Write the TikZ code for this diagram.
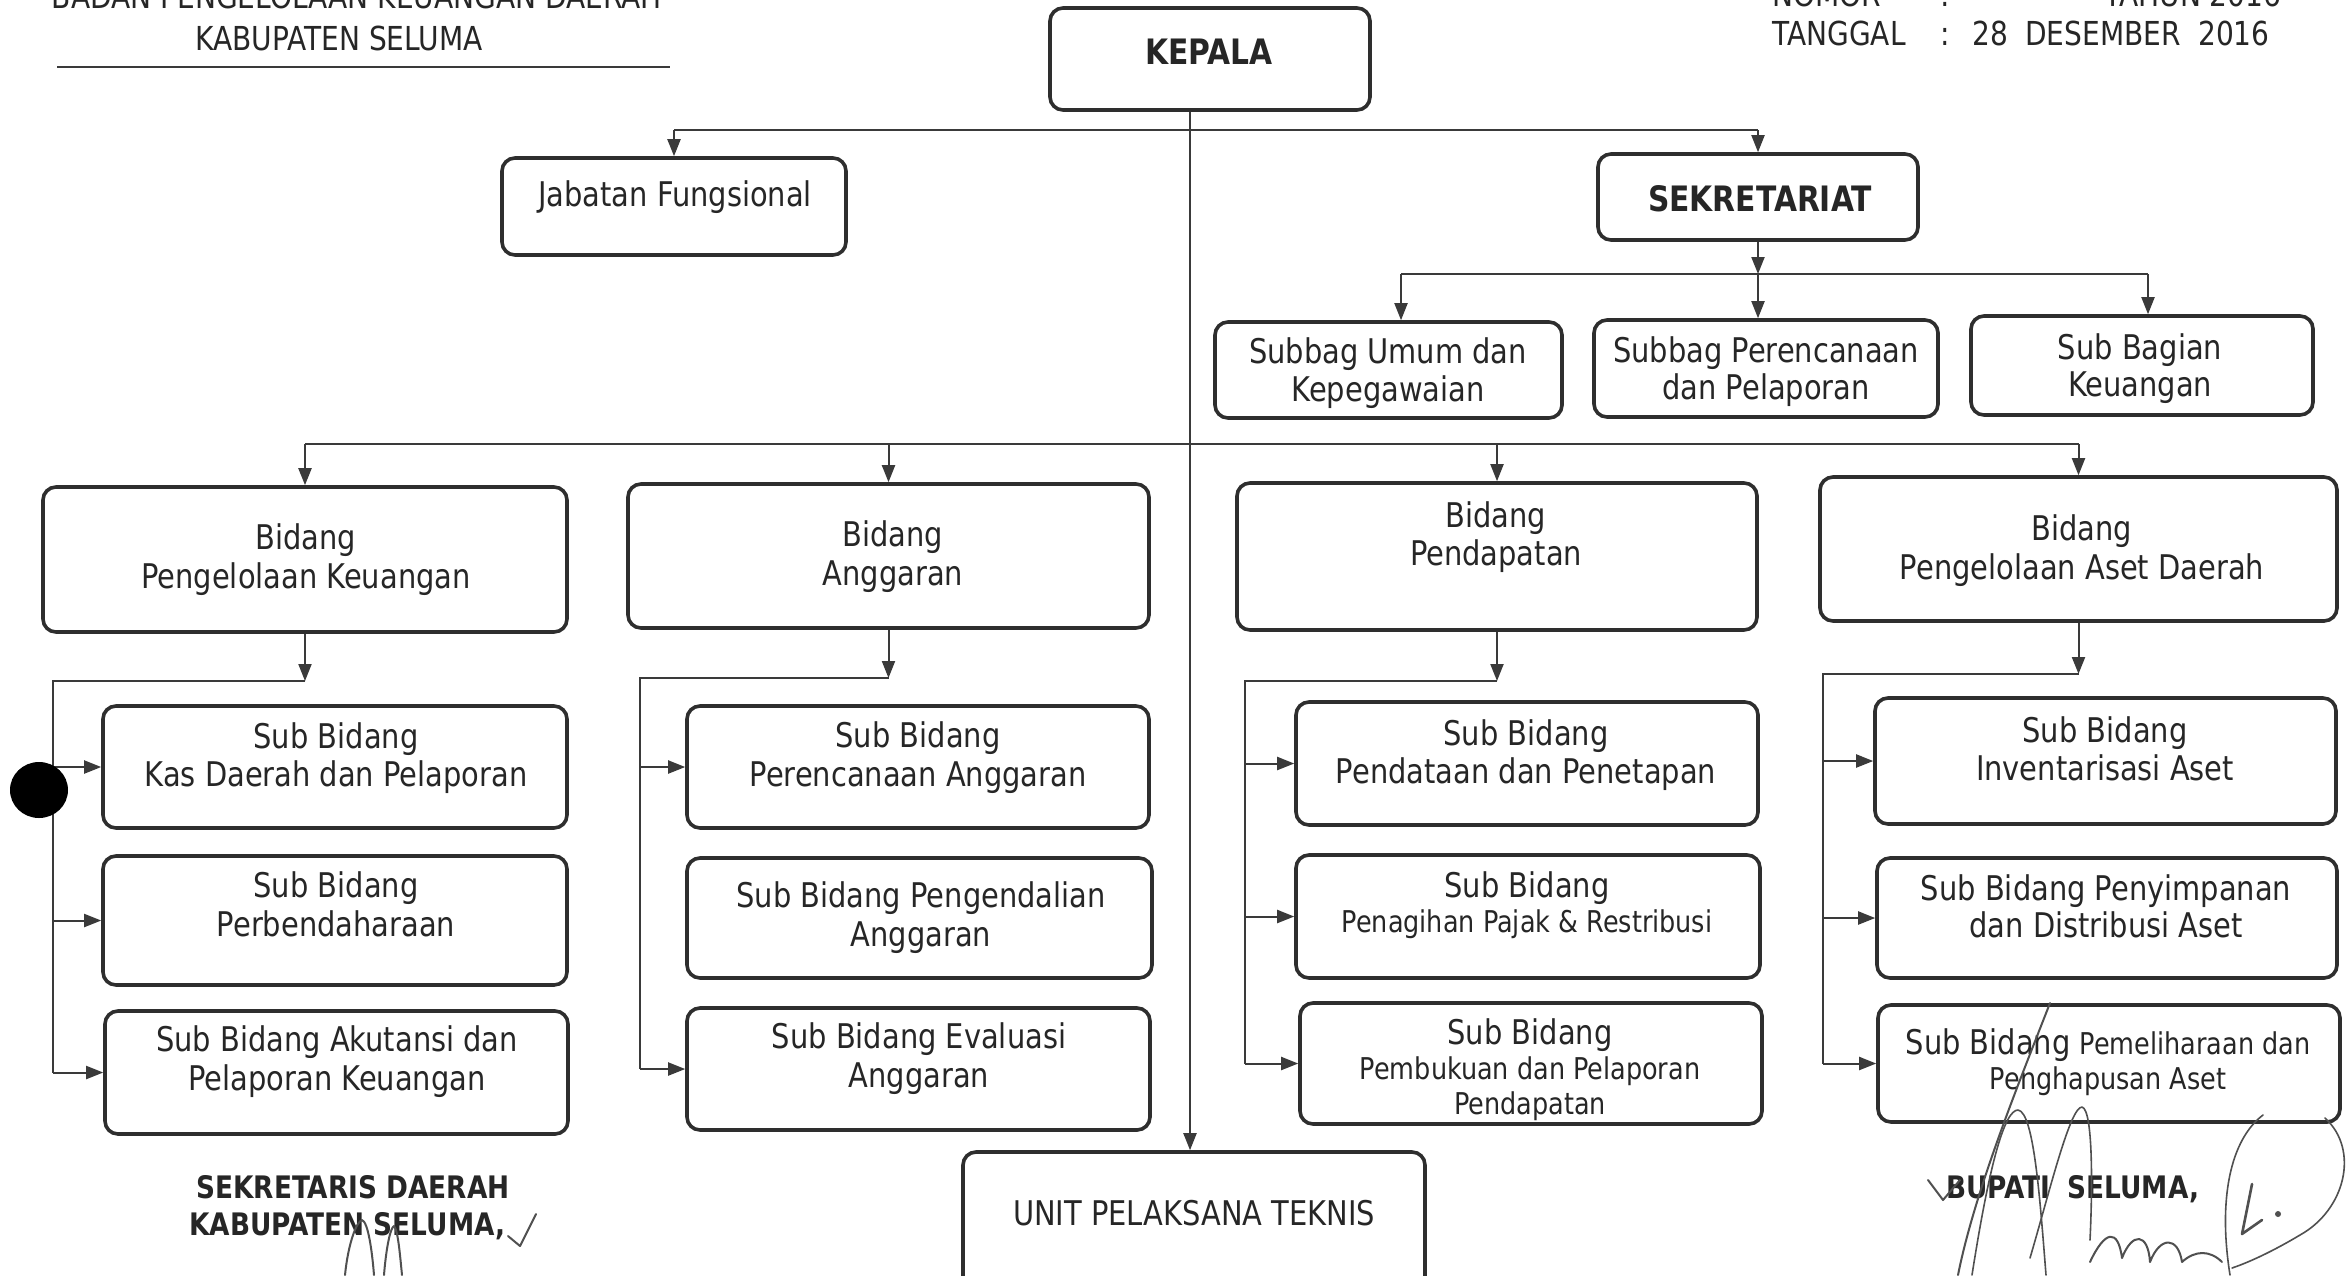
\documentclass[tikz,border=0pt]{standalone}
\usepackage{fontspec}
\setmainfont[FakeStretch=0.85]{DejaVu Sans}
\usetikzlibrary{arrows.meta}
\newcommand\szBox{\fontsize{34}{38}\selectfont}
\newcommand\szSmall{\fontsize{30}{35}\selectfont}
\newcommand\szHead{\fontsize{33}{38}\selectfont}
\newcommand\szTitle{\bfseries\fontsize{35}{40}\selectfont}
\newcommand\szSign{\bfseries\fontsize{31}{36}\selectfont}
\definecolor{txtc}{HTML}{262626}
\definecolor{boxc}{HTML}{2E2E2E}
\definecolor{linec}{HTML}{3A3A3A}
\definecolor{penc}{HTML}{505050}
\tikzset{
  box/.style={draw=boxc, line width=3.6pt, rounded corners=13pt, inner sep=0pt},
  lbl/.style={anchor=base, inner sep=0pt, text=txtc, font=\szBox},
  sml/.style={lbl, font=\szSmall},
  hdr/.style={anchor=base west, inner sep=0pt, text=txtc, font=\szHead},
  conn/.style={draw=linec, line width=2pt},
  arr/.style={conn, -{Triangle[length=17pt,width=13pt]}},
  pen/.style={draw=penc, line width=2pt, line cap=round, line join=round},
}
\begin{document}
\begin{tikzpicture}[x=1pt,y=-1pt]
\useasboundingbox (0,0) rectangle (2351,1275);
\fill[white] (0,0) rectangle (2351,1275);

% ---------- header ----------
\node[anchor=base, inner sep=0pt, text=txtc, font=\szHead] (h1) at (357,8) {BADAN PENGELOLAAN KEUANGAN DAERAH};
\node[anchor=base, inner sep=0pt, text=txtc, font=\szHead] (h2) at (339,50) {KABUPATEN SELUMA};
\coordinate (hl1) at (57,67);
\coordinate (hl2) at (670,67);
\draw[draw=linec, line width=1.8pt] (hl1) -- (hl2);

\node[hdr] (nom) at (1772,6) {NOMOR};
\node[hdr] (nomc) at (1940,6) {:};
\node[hdr] (tah) at (2104,6) {TAHUN 2016};
\node[hdr] (tgl) at (1772,45) {TANGGAL};
\node[hdr] (tglc) at (1940,45) {:};
\node[hdr] (tgln) at (1972,45) {28};
\node[hdr] (tglm) at (2025,45) {DESEMBER};
\node[hdr] (tgly) at (2198,45) {2016};

% ---------- boxes ----------
\node[box, minimum width=320pt, minimum height=102pt] (kepala) at (1210,59) {};
\node[box, minimum width=344pt, minimum height=97pt] (jab) at (674,206.5) {};
\node[box, minimum width=320pt, minimum height=86pt] (sek) at (1758,197) {};
\node[box, minimum width=347pt, minimum height=96pt] (sub1) at (1388.5,370) {};
\node[box, minimum width=344pt, minimum height=97pt] (sub2) at (1766,368.5) {};
\node[box, minimum width=342pt, minimum height=99pt] (sub3) at (2142,365.5) {};

\node[box, minimum width=524pt, minimum height=145pt] (bid1) at (305,559.5) {};
\node[box, minimum width=521pt, minimum height=144pt] (bid2) at (888.5,556) {};
\node[box, minimum width=520pt, minimum height=147pt] (bid3) at (1497,556.5) {};
\node[box, minimum width=517pt, minimum height=144pt] (bid4) at (2078.5,549) {};

\node[box, minimum width=464pt, minimum height=122pt] (c1a) at (335,767) {};
\node[box, minimum width=464pt, minimum height=129pt] (c1b) at (335,920.5) {};
\node[box, minimum width=463pt, minimum height=123pt] (c1c) at (336.5,1072.5) {};

\node[box, minimum width=462pt, minimum height=122pt] (c2a) at (918,767) {};
\node[box, minimum width=465pt, minimum height=120pt] (c2b) at (919.5,918) {};
\node[box, minimum width=463pt, minimum height=122pt] (c2c) at (918.5,1069) {};

\node[box, minimum width=462pt, minimum height=123pt] (c3a) at (1527,763.5) {};
\node[box, minimum width=464pt, minimum height=123pt] (c3b) at (1528,916.5) {};
\node[box, minimum width=462pt, minimum height=121pt] (c3c) at (1531,1063.5) {};

\node[box, minimum width=461pt, minimum height=126pt] (c4a) at (2105.5,761) {};
\node[box, minimum width=460pt, minimum height=120pt] (c4b) at (2107,918) {};
\node[box, minimum width=462pt, minimum height=117pt] (c4c) at (2109,1063.5) {};

\node[box, minimum width=462pt, minimum height=148pt] (unit) at (1194,1226) {};

% ---------- box texts ----------
\node[lbl, font=\szTitle] (kepalaT) at (1209,64) {KEPALA};
\node[lbl] (jabT) at (675,206) {Jabatan Fungsional};
\node[lbl, font=\szTitle] (sekT) at (1760,211) {SEKRETARIAT};

\node[lbl] (sub1T1) at (1388,363) {Subbag Umum dan};
\node[lbl] (sub1T2) at (1388,401) {Kepegawaian};
\node[lbl] (sub2T1) at (1766,362) {Subbag Perencanaan};
\node[lbl] (sub2T2) at (1766,399) {dan Pelaporan};
\node[lbl] (sub3T1) at (2140,359) {Sub Bagian};
\node[lbl] (sub3T2) at (2140,396) {Keuangan};

\node[lbl] (bid1T1) at (306,549) {Bidang};
\node[lbl] (bid1T2) at (306,588) {Pengelolaan Keuangan};
\node[lbl] (bid2T1) at (893,546) {Bidang};
\node[lbl] (bid2T2) at (893,585) {Anggaran};
\node[lbl] (bid3T1) at (1496,527) {Bidang};
\node[lbl] (bid3T2) at (1496,565) {Pendapatan};
\node[lbl] (bid4T1) at (2082,540) {Bidang};
\node[lbl] (bid4T2) at (2082,579) {Pengelolaan Aset Daerah};

\node[lbl] (c1aT1) at (336,748) {Sub Bidang};
\node[lbl] (c1aT2) at (336,786) {Kas Daerah dan Pelaporan};
\node[lbl] (c1bT1) at (336,897) {Sub Bidang};
\node[lbl] (c1bT2) at (336,936) {Perbendaharaan};
\node[lbl] (c1cT1) at (337,1051) {Sub Bidang Akutansi dan};
\node[lbl] (c1cT2) at (337,1090) {Pelaporan Keuangan};

\node[lbl] (c2aT1) at (918,747) {Sub Bidang};
\node[lbl] (c2aT2) at (918,786) {Perencanaan Anggaran};
\node[lbl] (c2bT1) at (921,907) {Sub Bidang Pengendalian};
\node[lbl] (c2bT2) at (921,946) {Anggaran};
\node[lbl] (c2cT1) at (919,1048) {Sub Bidang Evaluasi};
\node[lbl] (c2cT2) at (919,1087) {Anggaran};

\node[lbl] (c3aT1) at (1526,745) {Sub Bidang};
\node[lbl] (c3aT2) at (1526,783) {Pendataan dan Penetapan};
\node[lbl] (c3bT1) at (1527,897) {Sub Bidang};
\node[sml] (c3bT2) at (1527,932) {Penagihan Pajak \& Restribusi};
\node[lbl] (c3cT1) at (1530,1044) {Sub Bidang};
\node[sml] (c3cT2) at (1530,1079) {Pembukuan dan Pelaporan};
\node[sml] (c3cT3) at (1530,1114) {Pendapatan};

\node[lbl] (c4aT1) at (2105,742) {Sub Bidang};
\node[lbl] (c4aT2) at (2105,780) {Inventarisasi Aset};
\node[lbl] (c4bT1) at (2106,900) {Sub Bidang Penyimpanan};
\node[lbl] (c4bT2) at (2106,937) {dan Distribusi Aset};
\node[lbl] (c4cT1) at (2108,1054) {Sub Bidang {\szSmall Pemeliharaan dan}};
\node[sml] (c4cT2) at (2108,1089) {Penghapusan Aset};

\node[lbl] (unitT) at (1194,1225) {UNIT PELAKSANA TEKNIS};

% ---------- connectors ----------
\coordinate (tk) at (1190,130);
\coordinate (bb) at (1190,444);
\draw[arr] (tk |- kepala.south) -- (tk |- unit.north);
\draw[conn] (jab.north |- tk) -- (sek.north |- tk);
\draw[arr] (jab.north |- tk) -- (jab.north);
\draw[arr] (sek.north |- tk) -- (sek.north);

\coordinate (sb) at (1758,274);
\coordinate (sa1) at (1401,274);
\coordinate (sa3) at (2148,274);
\draw[arr] (sek.south) -- (sb);
\draw[conn] (sa1) -- (sa3);
\draw[arr] (sa1) -- (sa1 |- sub1.north);
\draw[arr] (sb) -- (sb |- sub2.north);
\draw[arr] (sa3) -- (sa3 |- sub3.north);

\draw[conn] (bid1.north |- bb) -- (bid4.north |- bb);
\draw[arr] (bid1.north |- bb) -- (bid1.north);
\draw[arr] (bid2.north |- bb) -- (bid2.north);
\draw[arr] (bid3.north |- bb) -- (bid3.north);
\draw[arr] (bid4.north |- bb) -- (bid4.north);

% column 1
\coordinate (k1) at (53,681);
\draw[arr] (bid1.south) -- (bid1.south |- k1);
\draw[conn] (bid1.south |- k1) -- (k1) -- (k1 |- c1c.west);
\draw[arr] (k1 |- c1a.west) -- (c1a.west);
\draw[arr] (k1 |- c1b.west) -- (c1b.west);
\draw[arr] (k1 |- c1c.west) -- (c1c.west);
% column 2
\coordinate (k2) at (640,678);
\draw[arr] (bid2.south) -- (bid2.south |- k2);
\draw[conn] (bid2.south |- k2) -- (k2) -- (k2 |- c2c.west);
\draw[arr] (k2 |- c2a.west) -- (c2a.west);
\draw[arr] (k2 |- c2c.west) -- (c2c.west);
% column 3
\coordinate (k3) at (1245,681);
\draw[arr] (bid3.south) -- (bid3.south |- k3);
\draw[conn] (bid3.south |- k3) -- (k3) -- (k3 |- c3c.west);
\draw[arr] (k3 |- c3a.west) -- (c3a.west);
\draw[arr] (k3 |- c3b.west) -- (c3b.west);
\draw[arr] (k3 |- c3c.west) -- (c3c.west);
% column 4
\coordinate (k4) at (1823,674);
\draw[arr] (bid4.south) -- (bid4.south |- k4);
\draw[conn] (bid4.south |- k4) -- (k4) -- (k4 |- c4c.west);
\draw[arr] (k4 |- c4a.west) -- (c4a.west);
\draw[arr] (k4 |- c4b.west) -- (c4b.west);
\draw[arr] (k4 |- c4c.west) -- (c4c.west);

% ink blot
\fill[black] (39,790) ellipse [x radius=29pt, y radius=28pt];

% ---------- signatures block ----------
\node[anchor=base, inner sep=0pt, text=txtc, font=\szSign] (sekda1) at (353,1198) {SEKRETARIS DAERAH};
\node[anchor=base west, inner sep=0pt, text=txtc, font=\szSign] (sekda2) at (189,1235) {KABUPATEN SELUMA,};
\node[anchor=base west, inner sep=0pt, text=txtc, font=\szSign] (bupati) at (1946,1198) {BUPATI\hspace{0.55em}SELUMA,};

% pen strokes (left)
\draw[pen] (508,1236) -- (520,1246) -- (536,1214);
\draw[pen] (345,1275) .. controls (348,1245) and (356,1222) .. (362,1220) .. controls (368,1222) and (372,1250) .. (374,1275);
\draw[pen] (384,1275) .. controls (386,1250) and (390,1228) .. (394,1226) .. controls (398,1230) and (400,1255) .. (402,1275);
% pen strokes (right)
\draw[pen] (1928,1180) -- (1943,1200) -- (1960,1180);
\draw[pen] (2050,1003) .. controls (2020,1080) and (1975,1190) .. (1958,1275);
\draw[pen, line width=1.6pt] (1972,1275) .. controls (1990,1160) and (2005,1110) .. (2018,1110) .. controls (2034,1112) and (2040,1200) .. (2046,1275);
\draw[pen, line width=1.6pt] (2030,1258) .. controls (2050,1190) and (2070,1107) .. (2082,1107) .. controls (2094,1110) and (2092,1200) .. (2090,1240);
\draw[pen] (2090,1262) .. controls (2105,1230) and (2118,1228) .. (2122,1258) .. controls (2132,1232) and (2148,1232) .. (2150,1262) .. controls (2160,1236) and (2178,1236) .. (2182,1262) .. controls (2195,1250) and (2210,1250) .. (2222,1262);
\draw[pen, line width=1.6pt] (2263,1115) .. controls (2230,1140) and (2218,1200) .. (2230,1275);
\draw[pen, line width=1.6pt] (2325,1118) .. controls (2360,1150) and (2345,1210) .. (2300,1235) .. controls (2275,1250) and (2250,1262) .. (2232,1268);
\draw[pen, line width=2.6pt] (2252,1184) -- (2242,1234) -- (2262,1220);
\fill[penc] (2278,1214) circle[radius=3pt];
\end{tikzpicture}
\end{document}
